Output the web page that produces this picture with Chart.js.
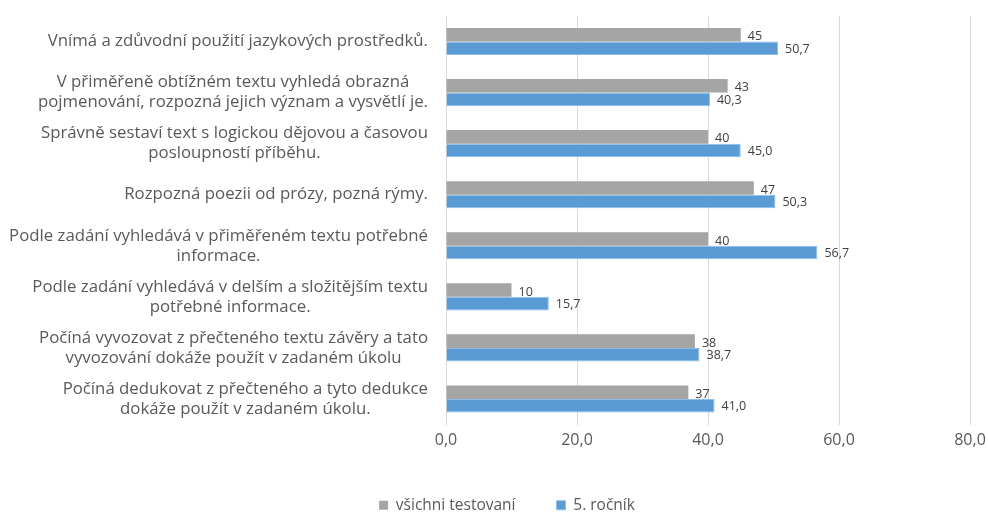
<!DOCTYPE html>
<html>
<head>
<meta charset="utf-8">
<script src="https://cdn.jsdelivr.net/npm/chart.js@4"></script>
<style>
html,body{margin:0;padding:0;background:#fff;}
#wrap{width:988px;height:512px;position:relative;}
</style>
</head>
<body>
<div id="wrap"><canvas id="c" width="988" height="512"></canvas></div>
<script>
const categories = [
  ["Vnímá a zdůvodní použití jazykových prostředků."],
  ["V přiměřeně obtížném textu vyhledá obrazná", "pojmenování, rozpozná jejich význam a vysvětlí je."],
  ["Správně sestaví text s logickou dějovou a časovou", "posloupností příběhu."],
  ["Rozpozná poezii od prózy, pozná rýmy."],
  ["Podle zadání vyhledává v přiměřeném textu potřebné", "informace."],
  ["Podle zadání vyhledává v delším a složitějším textu", "potřebné informace."],
  ["Počíná vyvozovat z přečteného textu závěry a tato", "vyvozování dokáže použít v zadaném úkolu"],
  ["Počíná dedukovat z přečteného a tyto dedukce", "dokáže použít v zadaném úkolu."]
];
const allTested = [45, 43, 40, 47, 40, 10, 38, 37];
const grade5 = [50.7, 40.3, 45.0, 50.3, 56.7, 15.7, 38.7, 41.0];
const xTicks = [0, 20, 40, 60, 80];
const seriesNames = ["všichni testovaní", "5. ročník"];

const FONT = '"Open Sans"';
const fmtComma = v => v.toFixed(1).replace('.', ',');

const labelPlugin = {
  id: 'valueLabels',
  afterDatasetsDraw(chart) {
    const ctx = chart.ctx;
    ctx.save();
    ctx.font = '12.5px ' + FONT;
    ctx.fillStyle = '#404040';
    ctx.textBaseline = 'middle';
    ctx.textAlign = 'left';
    chart.data.datasets.forEach((ds, i) => {
      const meta = chart.getDatasetMeta(i);
      meta.data.forEach((el, j) => {
        const v = ds.data[j];
        const txt = i === 0 ? String(Math.round(v)) : fmtComma(v);
        ctx.fillText(txt, el.x + 7, el.y + (i === 0 ? 2 : 1));
      });
    });
    ctx.restore();
  }
};

// category labels: multi-line blocks, lines centred within the block, block right-aligned to the axis
const catLabelPlugin = {
  id: 'catLabels',
  afterDraw(chart) {
    const ctx = chart.ctx;
    const yScale = chart.scales.y;
    const right = chart.chartArea.left - 18;
    const lh = 20;
    ctx.save();
    ctx.font = '16.8px ' + FONT;
    ctx.fillStyle = '#595959';
    ctx.textBaseline = 'middle';
    ctx.textAlign = 'center';
    chart.data.labels.forEach((lines, i) => {
      const y = yScale.getPixelForValue(i);
      const w = Math.max(...lines.map(l => ctx.measureText(l).width));
      const cx = right - w / 2;
      const y0 = y - (lines.length - 1) * lh / 2;
      lines.forEach((l, k) => ctx.fillText(l, cx, y0 + k * lh));
    });
    ctx.restore();
  }
};

new Chart(document.getElementById('c'), {
  type: 'bar',
  data: {
    labels: categories,
    datasets: [
      { label: seriesNames[0], data: allTested, backgroundColor: '#A5A5A5', borderWidth: 0 },
      { label: seriesNames[1], data: grade5, backgroundColor: '#5B9BD5', borderColor: '#8DBDE8', borderWidth: 1 }
    ]
  },
  options: {
    indexAxis: 'y',
    responsive: false,
    animation: false,
    categoryPercentage: 0.53,
    barPercentage: 1.0,
    layout: { padding: { left: 26, right: 0, top: 16, bottom: -11 } },
    plugins: {
      legend: {
        position: 'bottom',
        labels: {
          boxWidth: 9, boxHeight: 9, padding: 41,
          color: '#595959',
          font: { family: FONT, size: 15.5 }
        }
      },
      tooltip: { enabled: false }
    },
    scales: {
      x: {
        min: 0, max: 80,
        afterBuildTicks: axis => { axis.ticks = xTicks.map(v => ({ value: v })); },
        afterFit: s => { s.paddingRight = 18; },
        grid: { color: '#D9D9D9', drawTicks: false },
        border: { display: false },
        ticks: {
          padding: 12,
          color: '#595959',
          font: { family: FONT, size: 16, lineHeight: 0.5 },
          callback: v => fmtComma(v)
        }
      },
      y: {
        grid: { display: false },
        border: { display: false },
        ticks: { display: false },
        afterFit: s => { s.width = 420; }
      }
    }
  },
  plugins: [labelPlugin, catLabelPlugin]
});
</script>
</body>
</html>
